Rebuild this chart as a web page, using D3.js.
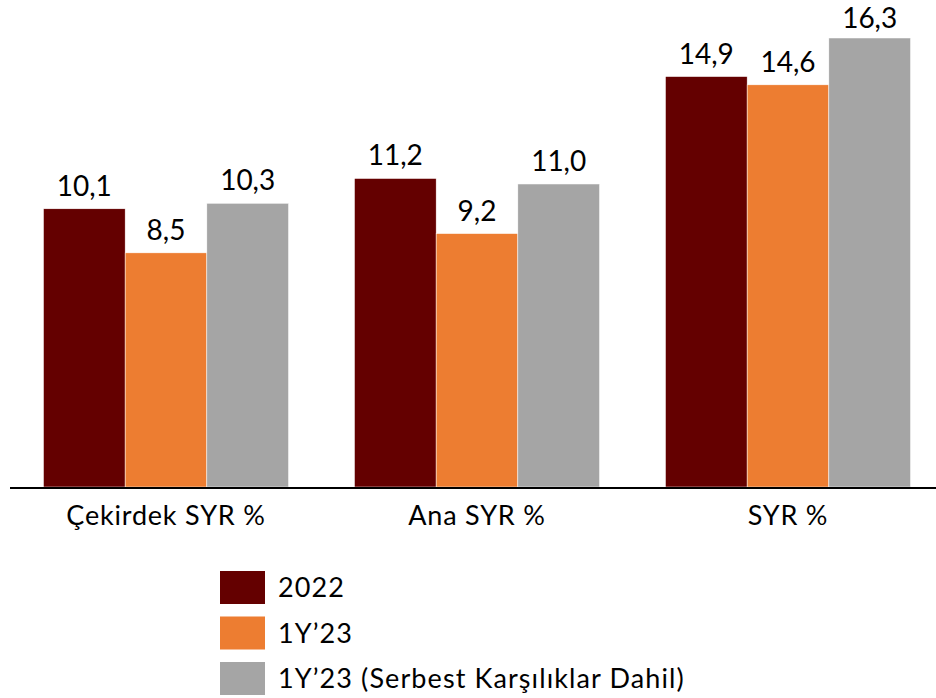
<!DOCTYPE html>
<html>
<head>
<meta charset="utf-8">
<script src="https://cdn.jsdelivr.net/npm/d3@7"></script>
<style>
  html, body { margin: 0; padding: 0; background: #fff; }
  svg { display: block; font-family: Lato, "Open Sans", sans-serif; }
</style>
</head>
<body>
<svg id="chart" width="936" height="698"></svg>
<script>
// Capital adequacy ratios by category and period
const categories = ["Çekirdek SYR %", "Ana SYR %", "SYR %"];
const seriesNames = ["2022", "1Y’23", "1Y’23 (Serbest Karşılıklar Dahil)"];
const values2022 = [10.1, 11.2, 14.9];
const values1Y23 = [8.5, 9.2, 14.6];
const values1Y23Free = [10.3, 11.0, 16.3];
const colors = ["#640000", "#ED7D31", "#A5A5A5"];

const series = [values2022, values1Y23, values1Y23Free];
const fmt = v => v.toFixed(1).replace(".", ",");

const svg = d3.select("#chart");
const baseline = 487;

const x0 = d3.scaleBand().domain(categories).range([10.5, 943.5]).paddingInner(0.212).paddingOuter(0.106);
const x1 = d3.scaleBand().domain(d3.range(series.length)).range([0, x0.bandwidth()]);
const y = d3.scaleLinear().domain([0, 16.3]).range([baseline, 38]);

const groups = svg.selectAll("g.group")
  .data(categories)
  .join("g")
  .attr("class", "group")
  .attr("transform", d => `translate(${x0(d)},0)`);

groups.each(function(cat, ci) {
  const g = d3.select(this);
  series.forEach((vals, si) => {
    const v = vals[ci];
    g.append("rect")
      .attr("x", x1(si))
      .attr("y", y(v))
      .attr("width", x1.bandwidth())
      .attr("height", baseline - y(v))
      .attr("fill", colors[si])
      .attr("stroke", "#fff")
      .attr("stroke-width", 0.5);
    // value label, kept inside the top edge of the plot
    g.append("text")
      .attr("x", x1(si) + x1.bandwidth() / 2)
      .attr("y", Math.max(y(v) - 13, 28))
      .attr("text-anchor", "middle")
      .attr("font-size", 28)
      .attr("fill", "#000")
      .text(fmt(v));
  });
});

// category axis
const axis = svg.append("g").attr("transform", `translate(0,${baseline + 1})`)
  .call(d3.axisBottom(x0).tickSize(0).tickPadding(0));
axis.select(".domain").remove();
axis.append("line").attr("x1", 10).attr("x2", 936).attr("y1", 0).attr("y2", 0)
  .attr("stroke", "#000").attr("stroke-width", 2.2);
axis.selectAll(".tick text")
  .attr("font-family", "Lato, 'Open Sans', sans-serif")
  .attr("font-size", 27)
  .attr("letter-spacing", 0.8)
  .attr("fill", "#000")
  .attr("dy", null)
  .attr("y", 37);

// legend
const legend = svg.append("g").attr("transform", "translate(220,571)");
seriesNames.forEach((name, i) => {
  const row = legend.append("g").attr("transform", `translate(0,${i * 45.5})`);
  row.append("rect").attr("width", 45).attr("height", 33).attr("fill", colors[i]);
  row.append("text").attr("x", 58).attr("y", 26)
    .attr("font-size", 27).attr("letter-spacing", 1.1).attr("fill", "#000").text(name);
});
</script>
</body>
</html>
